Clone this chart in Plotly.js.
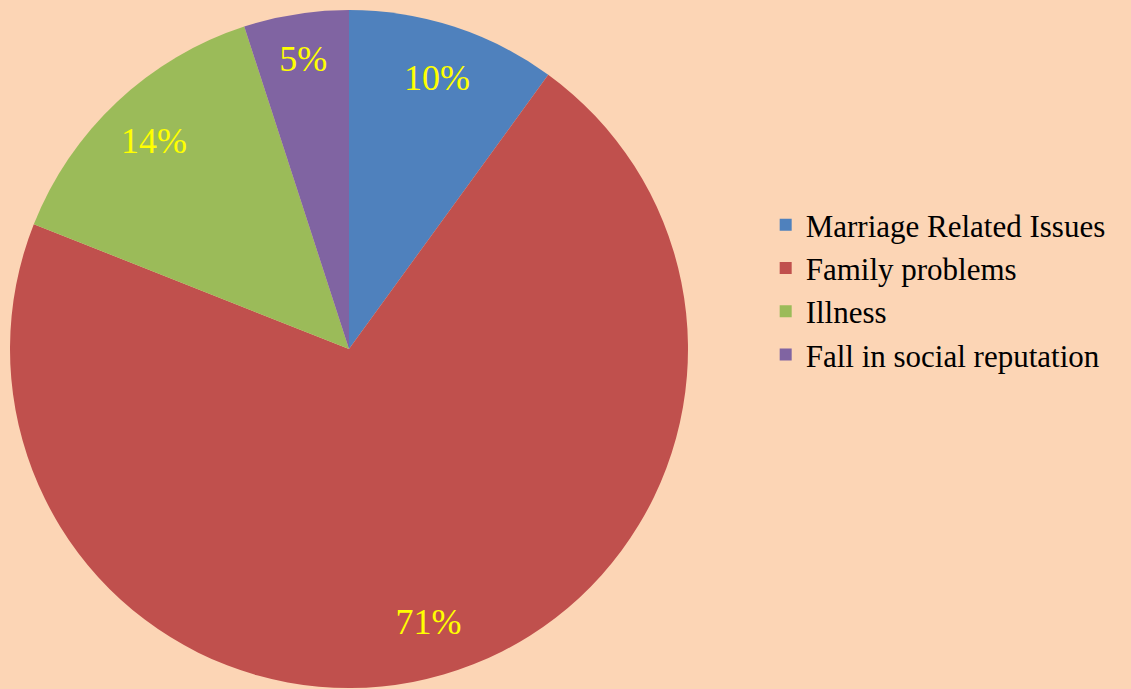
<!DOCTYPE html>
<html>
<head>
<meta charset="utf-8">
<script src="https://cdn.plot.ly/plotly-3.0.1.min.js"></script>
<style>html,body{margin:0;padding:0;background:#FCD5B5;}</style>
</head>
<body>
<div id="chart" style="width:1131px;height:689px;"></div>
<script>
const categories = ["Marriage Related Issues", "Family problems", "Illness", "Fall in social reputation"];
const values = [10, 71, 14, 5];
const colors = ["#4F81BD", "#C0504D", "#9BBB59", "#8064A2"];

const W = 1131, H = 689;
const dom = {x: [10 / W, 688 / W], y: [1 / H, 679 / H]};
const serif = "Liberation Serif, Times New Roman, serif";

const pieTrace = {
  type: "pie",
  labels: categories,
  values: values,
  sort: false,
  direction: "clockwise",
  rotation: 0,
  marker: {colors: colors, line: {width: 0}},
  textinfo: "none",
  hoverinfo: "label+percent",
  domain: dom
};
// transparent ring carrying the percentage labels near the outer edge
const labelTrace = {
  type: "pie",
  labels: categories,
  values: values,
  sort: false,
  direction: "clockwise",
  rotation: 0,
  hole: 0.68,
  showlegend: false,
  marker: {colors: categories.map(() => "rgba(0,0,0,0)"), line: {width: 0}},
  textinfo: "percent",
  texttemplate: "%{percent:.0%}",
  textposition: "inside",
  insidetextorientation: "horizontal",
  textfont: {family: serif, size: 36, color: "#FFFF00"},
  hoverinfo: "skip",
  domain: dom
};
const layout = {
  width: W, height: H,
  paper_bgcolor: "#FCD5B5",
  plot_bgcolor: "#FCD5B5",
  margin: {l: 0, r: 0, t: 0, b: 0},
  showlegend: true,
  legend: {
    x: 0.677, y: 0.579, xanchor: "left", yanchor: "middle",
    font: {family: serif, size: 31, color: "#000000"},
    bgcolor: "rgba(0,0,0,0)"
  }
};
Plotly.newPlot("chart", [pieTrace, labelTrace], layout, {displayModeBar: false, staticPlot: true});
</script>
</body>
</html>
